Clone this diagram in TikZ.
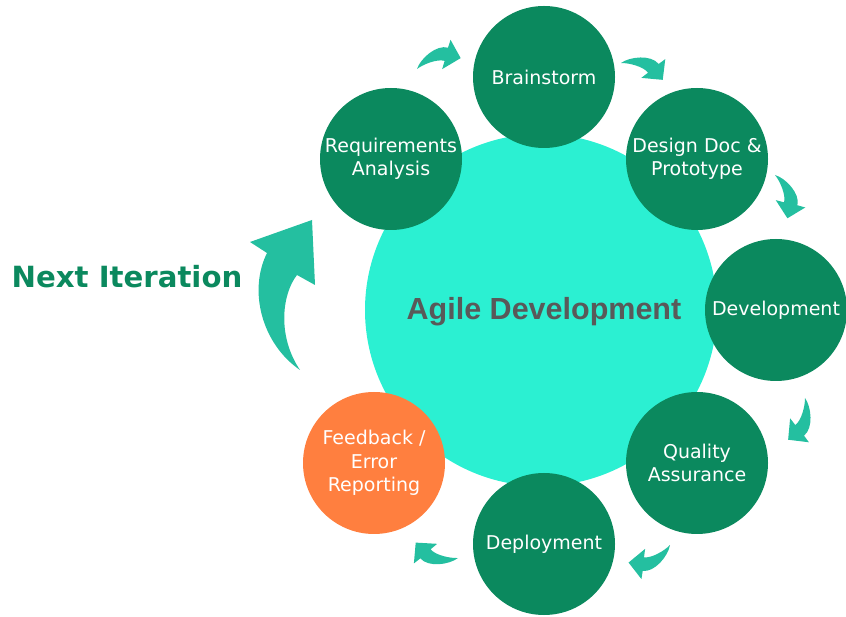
\documentclass[tikz,border=0pt]{standalone}
\usepackage{fontspec}
\newfontfamily\labelfont{DejaVu Sans}
\newfontfamily\titlefont{Liberation Sans}
\definecolor{stagegreen}{RGB}{11,137,94}
\definecolor{hubcyan}{RGB}{43,240,210}
\definecolor{arrowteal}{RGB}{36,191,160}
\definecolor{feedorange}{RGB}{255,127,63}
\definecolor{titlegrey}{RGB}{89,89,89}
\tikzset{
  stage/.style={circle, fill=stagegreen, minimum size=142pt, inner sep=0pt, text=white, align=center,
    font={\labelfont\fontsize{19pt}{23.5pt}\selectfont}},
  curvarrow/.pic={\fill[arrowteal] (0,0) .. controls (6,9.5) and (24.85,19.2) .. (35.25,13.2)
     -- (39.6,20.2) -- (45,0) -- (24.4,-6.2) -- (28.75,1.2)
     .. controls (21.8,5.2) and (7,3) .. (0,0) -- cycle;}
}
\begin{document}
\begin{tikzpicture}[x=1pt,y=1pt]
\useasboundingbox (0,0) rectangle (846,616);
% hub
\node[circle, fill=hubcyan, minimum size=352pt, inner sep=0pt] (hub) at (541,306) {};
\node[font={\titlefont\bfseries\fontsize{30.5pt}{34pt}\selectfont}, text=titlegrey] (title) at (544,304) {Agile Development};
% stages
\node[stage] (brain) at (544,539) {Brainstorm};
\node[stage] (req) at (391,457) {Requirements\\Analysis};
\node[stage] (design) at (697,457) {Design Doc \&\\Prototype};
\node[stage] (dev) at (776,306) {Development};
\node[stage] (qa) at (697,153) {Quality\\Assurance};
\node[stage] (deploy) at (544,72) {Deployment};
\node[stage, fill=feedorange] (feed) at (374,153) {Feedback /\\Error\\Reporting};
% small arrows
\pic[rotate=14] at (417,547) {curvarrow};
\pic[rotate=-22] at (621,553) {curvarrow};
\pic[rotate=-74] at (775,441) {curvarrow};
\pic[rotate=-112] at (805,218) {curvarrow};
\pic[rotate=-157] at (670,71) {curvarrow};
\pic[rotate=160] at (458,58) {curvarrow};
% big arrow
\fill[arrowteal] (300,246) .. controls (262,272) and (248,325) .. (267,363)
  -- (250,374) -- (312,396) -- (315,331) -- (297,341)
  .. controls (282,322) and (277,280) .. (300,246) -- cycle;
\node[font={\labelfont\bfseries\fontsize{29.2pt}{32pt}\selectfont}, text=stagegreen] (next) at (127,339) {Next Iteration};
\end{tikzpicture}
\end{document}
